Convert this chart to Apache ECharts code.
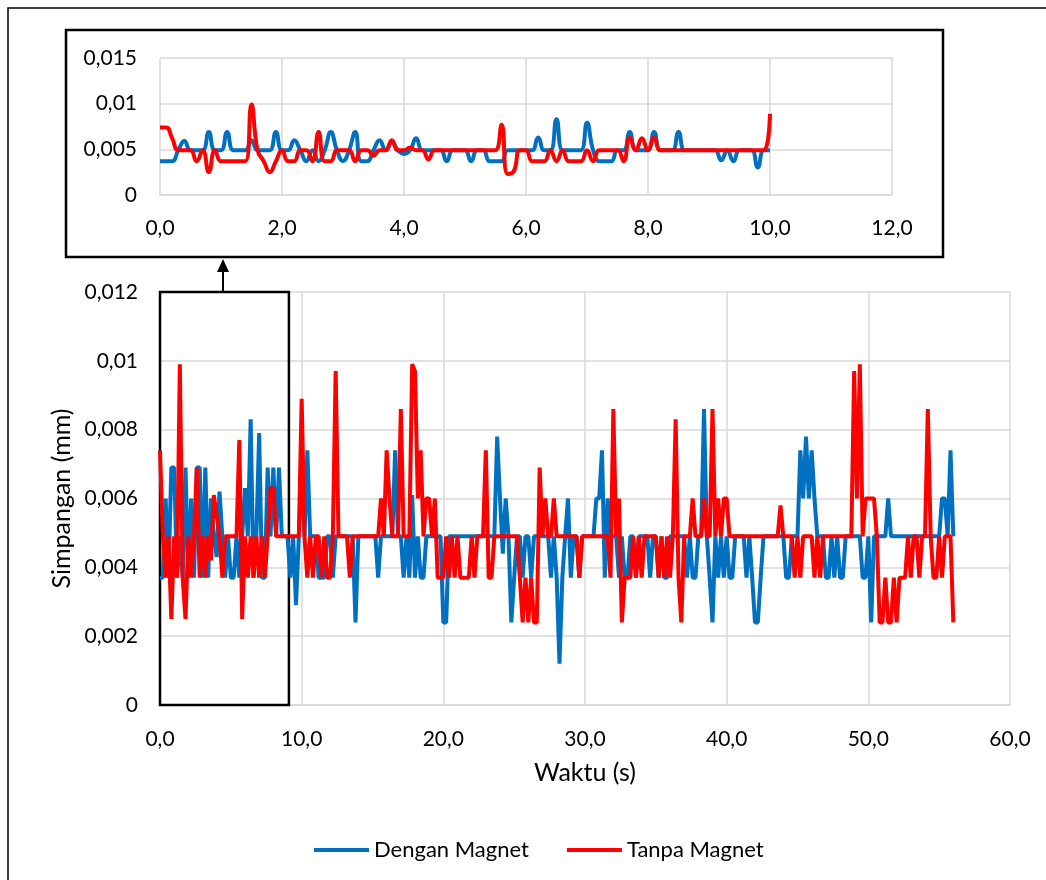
<!DOCTYPE html>
<html>
<head>
<meta charset="utf-8">
<title>Simpangan</title>
<script src="https://cdn.jsdelivr.net/npm/echarts@6/dist/echarts.min.js"></script>
</head>
<body style="margin:0;background:#fff">
<div id="main" style="width:1046px;height:880px"></div>
<script>
// sampling step (s)
var dtMain = 0.2;
var dtInset = 0.1;

// Dengan Magnet, 0 - 56 s
var dengan = [
  .0037,.0037,.006,.0037,.0069,.0069,.0037,.0049,.0037,.0069,
  .0037,.006,.0037,.0069,.0069,.0037,.0069,.0037,.006,.0049,
  .0043,.0062,.0049,.0037,.0049,.0037,.0037,.0049,.0037,.0049,
  .0063,.0049,.0083,.0037,.0049,.0079,.0037,.0037,.0069,.0049,
  .0069,.0049,.0069,.0049,.0049,.0049,.0037,.0049,.0029,.0049,
  // 10 s
  .0069,.0049,.0074,.0049,.0049,.0049,.0037,.0037,.0037,.0049,
  .0049,.0037,.0049,.0049,.0049,.0049,.0049,.0049,.0049,.0024,
  .0049,.0049,.0049,.0049,.0049,.0049,.0049,.0037,.0049,.0049,
  .0049,.0049,.0049,.0074,.0049,.0049,.0037,.0049,.0037,.0061,
  .0037,.0049,.0037,.0037,.0049,.0049,.0049,.0049,.0049,.0049,
  // 20 s
  .0024,.0024,.0049,.0049,.0049,.0049,.0049,.0049,.0049,.0049,
  .0049,.0049,.0049,.0049,.0049,.0049,.0049,.0049,.0049,.0078,
  .006,.0044,.006,.0049,.0024,.0037,.0049,.0049,.0037,.0049,
  .0049,.0037,.0049,.0049,.0049,.0049,.0049,.0049,.0037,.0049,
  .0037,.0012,.0037,.0049,.006,.0037,.0049,.0049,.0037,.0049,
  // 30 s
  .0049,.0049,.0049,.0049,.006,.006,.0074,.0037,.006,.0049,
  .0049,.0049,.0037,.0049,.0037,.0037,.0049,.0049,.0037,.0049,
  .0049,.0049,.0049,.0037,.0049,.0049,.0037,.0049,.0037,.0037,
  .0049,.0049,.0049,.0049,.0049,.0049,.0037,.0049,.0037,.0037,
  .0049,.0049,.0086,.0049,.0037,.0024,.0049,.0037,.0049,.0037,
  // 40 s
  .0049,.0037,.0037,.0049,.0049,.0049,.0049,.0037,.0049,.0037,
  .0024,.0024,.0037,.0049,.0049,.0049,.0049,.0049,.0049,.0049,
  .0049,.0037,.0037,.0049,.0049,.0049,.0074,.006,.0078,.006,
  .0074,.006,.0049,.0049,.0049,.0037,.0037,.0049,.0037,.0049,
  .0037,.0037,.0049,.0049,.0049,.0049,.0049,.0049,.0037,.0037,
  // 50 s
  .0049,.0024,.0049,.0049,.0049,.0049,.0049,.006,.0049,.0049,
  .0049,.0049,.0049,.0049,.0049,.0049,.0049,.0049,.0049,.0049,
  .0049,.0049,.0049,.0049,.0049,.0049,.006,.006,.0049,.0074,
  .0049
];

// Tanpa Magnet, 0 - 56 s
var tanpa = [
  .0074,.0049,.0037,.0049,.0025,.0049,.0037,.0099,.0037,.0025,
  .0049,.0037,.0049,.0069,.0037,.0049,.0037,.0049,.0042,.0061,
  .0055,.0049,.0037,.0049,.0049,.0049,.0049,.0049,.0077,.0025,
  .0049,.0037,.0049,.0037,.0049,.0037,.0049,.0037,.0049,.0063,
  .0063,.0049,.0049,.0049,.0049,.0049,.0049,.0049,.0049,.0049,
  // 10 s
  .0089,.0049,.0037,.0049,.0037,.0049,.0049,.0037,.0049,.0037,
  .0037,.0049,.0097,.0049,.0049,.0049,.0049,.0037,.0049,.0049,
  .0049,.0049,.0049,.0049,.0049,.0049,.0049,.0049,.006,.0049,
  .0074,.006,.0049,.0049,.0049,.0086,.0049,.0049,.0049,.0099,
  .0097,.006,.0074,.0049,.006,.006,.0049,.006,.0037,.0037,
  // 20 s
  .0037,.0049,.0037,.0049,.0037,.0049,.0037,.0037,.0037,.0037,
  .0049,.0037,.0049,.0049,.0049,.0074,.0037,.0037,.0049,.0049,
  .0049,.0049,.0049,.0049,.0049,.0049,.0049,.0037,.0024,.0037,
  .0024,.0037,.0024,.0024,.0069,.0049,.006,.0049,.0049,.006,
  .0049,.0049,.0049,.0049,.0049,.0049,.0049,.0049,.0037,.0049,
  // 30 s
  .0049,.0049,.0049,.0049,.0049,.0049,.0049,.0049,.0049,.0037,
  .0086,.0049,.006,.0024,.0037,.0037,.0037,.0049,.0037,.0049,
  .0037,.0049,.0049,.0049,.0049,.0049,.0037,.0049,.0037,.0049,
  .0037,.0049,.0083,.0037,.0024,.0049,.0049,.0049,.006,.0049,
  .0049,.0049,.006,.0049,.0049,.0086,.0049,.006,.0049,.006,
  // 40 s
  .006,.0049,.0049,.0049,.0049,.0049,.0049,.0049,.0049,.0049,
  .0049,.0049,.0049,.0049,.0049,.0049,.0049,.0049,.0049,.0058,
  .0049,.0049,.0049,.0049,.0037,.0049,.0037,.0049,.0049,.0049,
  .0049,.0037,.0049,.0037,.0049,.0049,.0049,.0049,.0049,.0049,
  .0049,.0049,.0049,.0049,.0049,.0097,.006,.0099,.0049,.006,
  // 50 s
  .006,.006,.006,.0049,.0024,.0024,.0037,.0024,.0024,.0037,
  .0024,.0037,.0037,.0037,.0049,.0037,.0049,.0049,.0037,.0049,
  .0049,.0086,.0049,.0037,.0037,.0049,.0037,.0049,.0049,.0049,
  .0024
];

// inset, 0 - 10 s
var denganInset = [
  .0037,.0037,.0037,.0049,.0059,.0049,.0049,.0049,.0069,.0049,
  .0049,.0069,.0049,.0049,.0049,.006,.0049,.0049,.0049,.0069,
  .0049,.0049,.006,.0049,.0037,.0049,.0037,.0049,.0069,.0049,
  .0037,.0049,.0069,.0037,.0037,.0049,.006,.0049,.0058,.0049,
  .0045,.0049,.0062,.0049,.0049,.0049,.0049,.0037,.0049,.0049,
  .0049,.0037,.0049,.0049,.0037,.0037,.0037,.0049,.0049,.0049,
  .0049,.0049,.0063,.0049,.0049,.0083,.0049,.0049,.0049,.0049,
  .0079,.0049,.0037,.0037,.0037,.0049,.0049,.0069,.0049,.0049,
  .0049,.0069,.0049,.0049,.0049,.0069,.0049,.0049,.0049,.0049,
  .0049,.0049,.0038,.0049,.0037,.0049,.0049,.0049,.003,.0049,
  .0049
];
var tanpaInset = [
  .0074,.0074,.0062,.0049,.0049,.0049,.0037,.0049,.0025,.0049,
  .0037,.0037,.0037,.0037,.0037,.0099,.0049,.0037,.0025,.0037,
  .0049,.0037,.0037,.0049,.0049,.0037,.0069,.0037,.0037,.0049,
  .0049,.0049,.0037,.0049,.0049,.0043,.0049,.0049,.006,.0049,
  .0049,.0052,.0049,.0049,.0039,.0049,.0049,.0049,.0049,.0049,
  .0049,.0049,.0049,.0049,.0049,.0049,.0077,.0023,.0026,.0049,
  .0049,.0037,.0037,.0037,.0049,.0037,.0049,.0037,.0037,.0037,
  .0049,.0037,.0049,.0049,.0049,.0049,.0037,.0063,.0049,.0062,
  .0049,.0063,.0049,.0049,.0049,.0049,.0049,.0049,.0049,.0049,
  .0049,.0049,.0049,.0049,.0049,.0049,.0049,.0049,.0049,.0049,
  .0089
];

var names = ['Dengan Magnet', 'Tanpa Magnet'];
var colors = ['#0070c0', '#ff0000'];

function pairs(vals, dt) {
  return vals.map(function (v, i) { return [Math.round(i * dt * 10) / 10, v]; });
}
function fmtX(v) { return v.toFixed(1).replace('.', ','); }
function fmtY(v) { return String(+v.toFixed(4)).replace('.', ','); }

var FONT = 'Lato';
var txt = { color: '#000', fontFamily: FONT, fontSize: 21 };
var titleTxt = { color: '#000', fontFamily: FONT, fontSize: 25 };
var gray = { color: '#d9d9d9', width: 1.5 };
var LW = 4;

var myChart = echarts.init(document.getElementById('main'));
var option = {
  animation: false,
  backgroundColor: '#fff',
  grid: [
    { left: 160, top: 292, width: 850, height: 413 },
    { left: 160, top: 58, width: 732, height: 137 }
  ],
  legend: {
    data: names,
    left: 309, top: 834,
    icon: 'rect', itemWidth: 55, itemHeight: 4, itemGap: 38,
    textStyle: Object.assign({}, txt, { fontSize: 22 })
  },
  xAxis: [
    {
      gridIndex: 0, type: 'value', min: 0, max: 60, interval: 10,
      axisLine: { lineStyle: gray }, axisTick: { show: false },
      splitLine: { lineStyle: gray },
      axisLabel: Object.assign({ margin: 24, formatter: fmtX }, txt),
      name: 'Waktu (s)', nameLocation: 'middle', nameGap: 55, nameMoveOverlap: false,
      nameTextStyle: titleTxt
    },
    {
      gridIndex: 1, type: 'value', min: 0, max: 12, interval: 2,
      axisLine: { lineStyle: gray }, axisTick: { show: false },
      splitLine: { lineStyle: gray },
      axisLabel: Object.assign({ margin: 23, formatter: fmtX }, txt)
    }
  ],
  yAxis: [
    {
      gridIndex: 0, type: 'value', min: 0, max: 0.012, interval: 0.002,
      axisLine: { show: false }, axisTick: { show: false },
      splitLine: { lineStyle: gray },
      axisLabel: Object.assign({ margin: 22, formatter: fmtY }, txt)
    },
    {
      gridIndex: 1, type: 'value', min: 0, max: 0.015, interval: 0.005,
      axisLine: { show: false }, axisTick: { show: false },
      splitLine: { lineStyle: gray },
      axisLabel: Object.assign({ margin: 23, formatter: fmtY }, txt)
    }
  ],
  series: [
    {
      name: names[0], type: 'line', xAxisIndex: 0, yAxisIndex: 0,
      data: pairs(dengan, dtMain), symbol: 'none',
      lineStyle: { width: LW, color: colors[0] }, itemStyle: { color: colors[0] }
    },
    {
      name: names[1], type: 'line', xAxisIndex: 0, yAxisIndex: 0,
      data: pairs(tanpa, dtMain), symbol: 'none',
      lineStyle: { width: LW, color: colors[1] }, itemStyle: { color: colors[1] },
      markArea: {
        silent: true,
        itemStyle: { color: 'rgba(0,0,0,0)', borderColor: '#000', borderWidth: 2.5 },
        data: [[{ xAxis: -0.2, yAxis: 0 }, { xAxis: 9.1, yAxis: 0.012 }]]
      }
    },
    {
      name: names[0] + ' (0-10 s)', type: 'line', xAxisIndex: 1, yAxisIndex: 1,
      data: pairs(denganInset, dtInset), symbol: 'none', smooth: true,
      lineStyle: { width: LW, color: colors[0] }, itemStyle: { color: colors[0] }
    },
    {
      name: names[1] + ' (0-10 s)', type: 'line', xAxisIndex: 1, yAxisIndex: 1,
      data: pairs(tanpaInset, dtInset), symbol: 'none', smooth: true,
      lineStyle: { width: LW, color: colors[1] }, itemStyle: { color: colors[1] }
    }
  ]
};
myChart.setOption(option);

// frames, y title and arrow linking the zoom box to the inset
var top0 = myChart.convertToPixel({ gridIndex: 0 }, [4.45, 0.012]);
var mid = myChart.convertToPixel({ gridIndex: 0 }, [0, 0.006]);
var ax = Math.round(top0[0]);
myChart.setOption({
  graphic: [
    { type: 'rect', shape: { x: 8, y: 8, width: 1100, height: 1000 },
      style: { fill: 'none', stroke: '#000', lineWidth: 1.5 } },
    { type: 'rect', shape: { x: 66, y: 30, width: 877, height: 227 },
      style: { fill: 'none', stroke: '#000', lineWidth: 2.5 } },
    { type: 'line', shape: { x1: ax, y1: top0[1], x2: ax, y2: 270 },
      style: { stroke: '#000', lineWidth: 2 } },
    { type: 'polygon', shape: { points: [[ax - 6, 272], [ax + 6, 272], [ax, 259]] },
      style: { fill: '#000' } },
    { type: 'text', x: 62, y: mid[1], rotation: Math.PI / 2,
      style: { text: 'Simpangan (mm)', fill: '#000', font: '25px Lato',
               align: 'center', verticalAlign: 'middle' } }
  ]
});
</script>
</body>
</html>
